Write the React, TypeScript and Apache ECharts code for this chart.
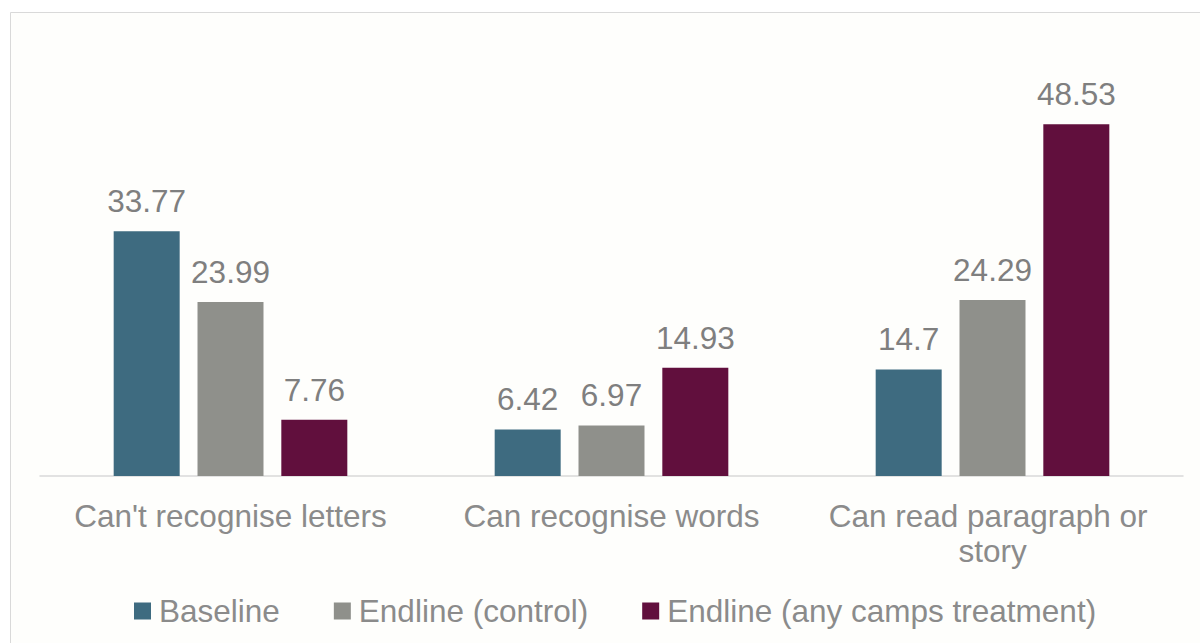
import React, { useEffect, useRef } from "react";
import * as echarts from "echarts";

const categories = [
  "Can't recognise letters",
  "Can recognise words",
  "Can read paragraph or story",
];
const seriesNames = ["Baseline", "Endline (control)", "Endline (any camps treatment)"];
const baseline = [33.77, 6.42, 14.7];
const endlineControl = [23.99, 6.97, 24.29];
const endlineTreatment = [7.76, 14.93, 48.53];
const seriesColors = ["#3e6b80", "#8f908b", "#610f3d"];

const FONT = "'Liberation Sans', Arial, Helvetica, sans-serif";

export default function App() {
  const ref = useRef<HTMLDivElement>(null);
  useEffect(() => {
    document.body.style.margin = "0";
    const chart = echarts.init(ref.current!, null, { renderer: "svg" });
    const values = [baseline, endlineControl, endlineTreatment];
    chart.setOption({
      animation: false,
      backgroundColor: "#ffffff",
      textStyle: { fontFamily: FONT },
      graphic: [
        {
          type: "rect",
          z: -10,
          silent: true,
          shape: { x: 10.5, y: 12.5, width: 1200, height: 700 },
          style: { fill: "#fefefc", stroke: "#d9d9d9", lineWidth: 1 },
        },
      ],
      grid: { left: 40, right: 17, top: 41, bottom: 167, containLabel: false },
      legend: {
        left: 129,
        top: 590,
        itemWidth: 17,
        itemHeight: 17,
        itemGap: 54,
        icon: "rect",
        textStyle: {
          fontSize: 31.5,
          color: "#8b8b8b",
          fontFamily: FONT,
          padding: [0, 0, 0, 3],
        },
        data: seriesNames,
      },
      xAxis: {
        type: "category",
        data: categories,
        axisLine: { show: true, lineStyle: { color: "#d9d9d9", width: 1.5 } },
        axisTick: { show: false },
        axisLabel: {
          interval: 0,
          margin: 22,
          fontSize: 31.5,
          lineHeight: 35,
          color: "#8b8b8b",
          fontFamily: FONT,
          width: 370,
          overflow: "break",
        },
      },
      yAxis: {
        type: "value",
        min: 0,
        max: 60,
        interval: 10,
        show: false,
        splitLine: { show: false },
      },
      series: seriesNames.map((name, i) => ({
        name,
        type: "bar",
        data: values[i],
        barWidth: 66,
        barGap: "27%",
        itemStyle: { color: seriesColors[i] },
        label: {
          show: true,
          position: "top",
          distance: 14,
          fontSize: 31.5,
          color: "#7f7f7f",
          fontFamily: FONT,
        },
      })),
    });
    return () => chart.dispose();
  }, []);
  return <div ref={ref} style={{ width: 1200, height: 643 }} />;
}
